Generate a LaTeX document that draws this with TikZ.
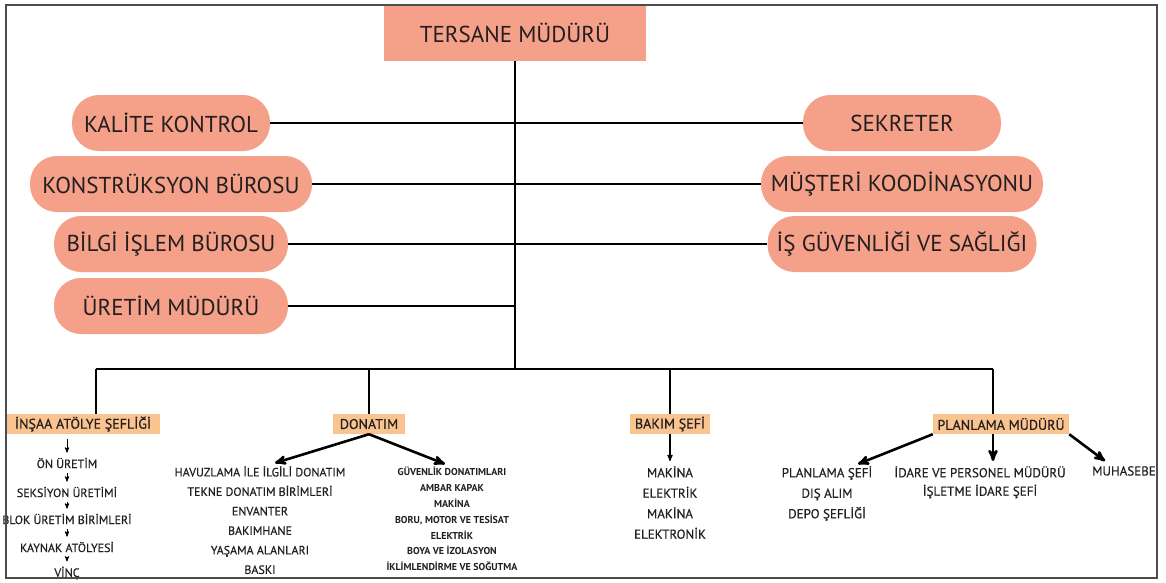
\documentclass[tikz,border=0pt]{standalone}
\usepackage{fontspec}
\setmainfont{PT Sans}
\newfontfamily\itemfont{PT Sans}[FakeBold=0.5]
\usetikzlibrary{arrows,positioning}

\definecolor{salmon}{RGB}{245,160,136}
\definecolor{peach}{RGB}{250,196,145}
\definecolor{ink}{RGB}{35,31,32}

\begin{document}
\begin{tikzpicture}[x=1pt,y=-1pt,>=stealth',every node/.style={text=ink},
  head node/.style={fill=salmon,minimum width=262pt,minimum height=55pt,font=\fontsize{23}{26}\selectfont},
  pill node/.style={fill=salmon,rounded corners=27pt,minimum height=56pt,inner xsep=4pt,font=\fontsize{23}{26}\selectfont},
  unit node/.style={fill=peach,inner sep=1pt,minimum height=20pt,font=\itemfont\fontsize{14}{16}\selectfont},
  item node/.style={inner sep=0pt,font=\itemfont\fontsize{12}{14}\selectfont},
  list node/.style={inner sep=0pt,align=center,anchor=north,font=\itemfont\fontsize{12}{19.5}\selectfont},
  link/.style={line width=1.6pt},
  small arrow/.style={->,line width=0.9pt,shorten <=5pt,shorten >=5pt},
  big arrow/.style={->,line width=2.6pt}]

  \useasboundingbox (0,0) rectangle (1166,582);

  \node[head node] (tersane) at (515,33) {TERSANE MÜDÜRÜ};

  \node[pill node,minimum width=198pt] (kalite) at (171,123) {KALİTE KONTROL};
  \node[pill node,minimum width=282pt] (konstruksiyon) at (171,184) {KONSTRÜKSYON BÜROSU};
  \node[pill node,minimum width=234pt] (bilgi) at (171,244) {BİLGİ İŞLEM BÜROSU};
  \node[pill node,minimum width=234pt] (uretim) at (171,306) {ÜRETİM MÜDÜRÜ};
  \node[pill node,minimum width=198pt] (sekreter) at (902,123) {SEKRETER};
  \node[pill node,minimum width=282pt] (musteri) at (902,184) {MÜŞTERİ KOODİNASYONU};
  \node[pill node,minimum width=269pt] (isg) at (902,244) {İŞ GÜVENLİĞİ VE SAĞLIĞI};

  \coordinate (bus) at (515,369);
  \coordinate (b1) at (96,369);
  \coordinate (b2) at (369,369);
  \coordinate (b3) at (670,369);
  \coordinate (b4) at (993,369);

  \node[unit node,minimum width=153pt] (insaa) at (83,424) {İNŞAA ATÖLYE ŞEFLİĞİ};
  \node[unit node,minimum width=72pt] (donatim) at (369,424) {DONATIM};
  \node[unit node,minimum width=80pt] (bakim) at (670,424) {BAKIM ŞEFİ};
  \node[unit node,minimum width=136pt] (planlama) at (1001,424) {PLANLAMA MÜDÜRÜ};

  \node[item node] (on) at (67,463) {ÖN ÜRETİM};
  \node[item node] (seksiyon) at (67,492) {SEKSİYON ÜRETİMİ};
  \node[item node] (blok) at (67,519) {BLOK ÜRETİM BİRİMLERİ};
  \node[item node] (kaynak) at (67,547) {KAYNAK ATÖLYESİ};
  \node[item node] (vinc) at (67,573) {VİNÇ};

  \node[list node] (donatimsol) at (260,466)
    {HAVUZLAMA İLE İLGİLİ DONATIM\\TEKNE DONATIM BİRİMLERİ\\ENVANTER\\BAKIMHANE\\YAŞAMA ALANLARI\\BASKI};
  \node[list node,font=\bfseries\fontsize{10}{15.8}\selectfont] (donatimsag) at (452,467)
    {GÜVENLİK DONATIMLARI\\AMBAR KAPAK\\MAKİNA\\BORU, MOTOR VE TESİSAT\\ELEKTRİK\\BOYA VE İZOLASYON\\İKLİMLENDİRME VE SOĞUTMA};
  \node[list node,font=\itemfont\fontsize{13}{20.5}\selectfont] (bakimlist) at (670,466)
    {MAKİNA\\ELEKTRİK\\MAKİNA\\ELEKTRONİK};
  \node[list node,font=\itemfont\fontsize{13}{20.5}\selectfont] (planlamasol) at (827,466)
    {PLANLAMA ŞEFİ\\DIŞ ALIM\\DEPO ŞEFLİĞİ};
  \node[list node,font=\itemfont\fontsize{13}{18.5}\selectfont] (planlamaorta) at (980,466)
    {İDARE VE PERSONEL MÜDÜRÜ\\İŞLETME İDARE ŞEFİ};
  \begin{scope}
    \clip (6,5) rectangle (1157,578);
    \node[list node,anchor=north west,font=\itemfont\fontsize{13}{20.5}\selectfont] (muhasebe) at (1092,466) {MUHASEBE};
  \end{scope}

  \draw[link] (tersane.south) -- (bus);
  \draw[link] (b1) -- (b4);
  \path[link]
    (kalite.east) edge (kalite.east -| bus)
    (konstruksiyon.east) edge (konstruksiyon.east -| bus)
    (bilgi.east) edge (bilgi.east -| bus)
    (uretim.east) edge (uretim.east -| bus)
    (sekreter.west) edge (sekreter.west -| bus)
    (musteri.west) edge (musteri.west -| bus)
    (isg.west) edge (isg.west -| bus)
    (b1) edge (b1 |- insaa.north)
    (b2) edge (b2 |- donatim.north)
    (b3) edge (b3 |- bakim.north)
    (b4) edge (b4 |- planlama.north);

  \path[small arrow]
    (insaa.south -| on) edge (on.north)
    (on) edge (seksiyon)
    (seksiyon) edge (blok)
    (blok) edge (kaynak)
    (kaynak) edge (vinc);

  \draw[->,line width=1.2pt,shorten >=5pt] (bakim.south) -- (bakimlist.north);
  \path[big arrow]
    (donatim.south) edge ([xshift=15pt,yshift=3pt]donatimsol.north)
    (donatim.south) edge ([xshift=-7pt,yshift=3pt]donatimsag.north)
    (planlama.south west) edge ([xshift=31pt,yshift=2pt]planlamasol.north)
    (planlama.south -| b4) edge ([yshift=5pt]b4 |- planlamaorta.north)
    (planlama.south east) edge ([xshift=13pt,yshift=5pt]muhasebe.north west);

  \draw[line width=1.5pt,black!70] (6,5) rectangle (1157,578);
\end{tikzpicture}
\end{document}
